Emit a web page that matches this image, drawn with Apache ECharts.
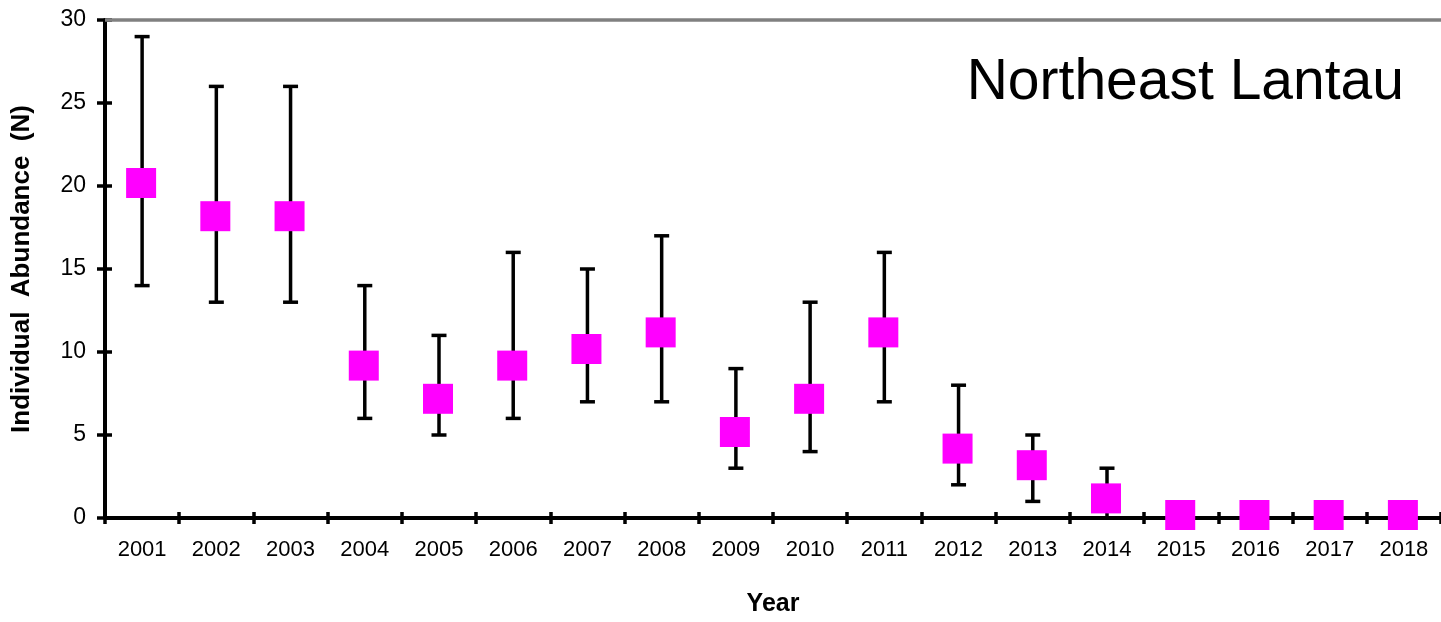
<!DOCTYPE html>
<html>
<head>
<meta charset="utf-8">
<script src="https://cdn.jsdelivr.net/npm/echarts@6/dist/echarts.min.js"></script>
<style>html,body{margin:0;padding:0;background:#fff;}#c{width:1441px;height:622px;}</style>
</head>
<body>
<div id="c"></div>
<script>
var years = ['2001','2002','2003','2004','2005','2006','2007','2008','2009','2010','2011','2012','2013','2014','2015','2016','2017','2018'];
var abundance = [20, 18, 18, 9, 7, 9, 10, 11, 5, 7, 11, 4, 3, 1, 0, 0, 0, 0];
var lower =     [14, 13, 13, 6, 5, 6, 7, 7, 3, 4, 7, 2, 1, 0, 0, 0, 0, 0];
var upper =     [29, 26, 26, 14, 11, 16, 15, 17, 9, 13, 16, 8, 5, 3, 0, 0, 0, 0];
var yTicks = [0, 5, 10, 15, 20, 25, 30];

var chart = echarts.init(document.getElementById('c'));
var font = 'Liberation Sans, Arial, sans-serif';
var errData = years.map(function (y, i) { return [i, lower[i], upper[i]]; });

chart.setOption({
  animation: false,
  backgroundColor: '#ffffff',
  title: {
    text: 'Northeast Lantau',
    right: 32, top: 50,
    textStyle: { fontFamily: font, fontSize: 57, fontWeight: 'normal', color: '#000' }
  },
  grid: { left: 105, right: -1, top: 20, bottom: 101, containLabel: false },
  xAxis: [{
    type: 'category', data: years, boundaryGap: true,
    name: 'Year', nameLocation: 'middle', nameGap: 74,
    nameTextStyle: { fontFamily: font, fontSize: 25, fontWeight: 'bold', color: '#000' },
    axisLine: { show: true, lineStyle: { color: '#000', width: 4 } },
    axisTick: { show: true, alignWithLabel: false, length: 6, lineStyle: { color: '#000', width: 3.5 } },
    axisLabel: { fontFamily: font, fontSize: 22, color: '#000', margin: 21 },
    splitLine: { show: false }
  }, {
    type: 'category', data: years, boundaryGap: true, position: 'bottom',
    axisLine: { show: false },
    axisTick: { show: true, inside: true, length: 6, lineStyle: { color: '#000', width: 3.5 } },
    axisLabel: { show: false }, splitLine: { show: false }
  }],
  yAxis: [{
    type: 'value', min: 0, max: 30, interval: 5,
    name: 'Individual  Abundance  (N)', nameLocation: 'middle', nameGap: 70,
    nameTextStyle: { fontFamily: font, fontSize: 26, fontWeight: 'bold', color: '#000' },
    axisLine: { show: true, lineStyle: { color: '#000', width: 4 } },
    axisTick: { show: true, length: 8, lineStyle: { color: '#000', width: 3.5 } },
    axisLabel: { fontFamily: font, fontSize: 23, color: '#000', margin: 19,
      formatter: function (v) { return yTicks.indexOf(v) >= 0 ? String(v) : ''; } },
    splitLine: { show: false }
  }, {
    type: 'value', min: 0, max: 30, interval: 5, position: 'left',
    axisLine: { show: false },
    axisTick: { show: true, inside: true, length: 7, lineStyle: { color: '#000', width: 3.5 } },
    axisLabel: { show: false }, splitLine: { show: false }
  }],
  series: [{
    type: 'custom',
    z: 2,
    data: errData,
    renderItem: function (params, api) {
      var x = api.value(0);
      var lo = api.coord([x, api.value(1)]);
      var hi = api.coord([x, api.value(2)]);
      if (api.value(1) === api.value(2)) return { type: 'group', children: [] };
      var w = 7.5;
      var st = { stroke: '#000', lineWidth: 3.5 };
      return {
        type: 'group',
        children: [
          { type: 'line', shape: { x1: lo[0], y1: lo[1], x2: hi[0], y2: hi[1] }, style: st },
          { type: 'line', shape: { x1: hi[0] - w, y1: hi[1], x2: hi[0] + w, y2: hi[1] }, style: st },
          { type: 'line', shape: { x1: lo[0] - w, y1: lo[1], x2: lo[0] + w, y2: lo[1] }, style: st }
        ]
      };
    }
  }, {
    type: 'scatter',
    z: 5,
    data: abundance,
    symbol: 'rect',
    symbolSize: 30,
    symbolOffset: [-1, -3],
    itemStyle: { color: '#ff00ff', opacity: 1 },
    markLine: {
      silent: true, symbol: 'none', z: 1,
      label: { show: false },
      lineStyle: { color: '#808080', width: 3.5, type: 'solid' },
      data: [{ yAxis: 30 }]
    }
  }]
});
</script>
</body>
</html>
